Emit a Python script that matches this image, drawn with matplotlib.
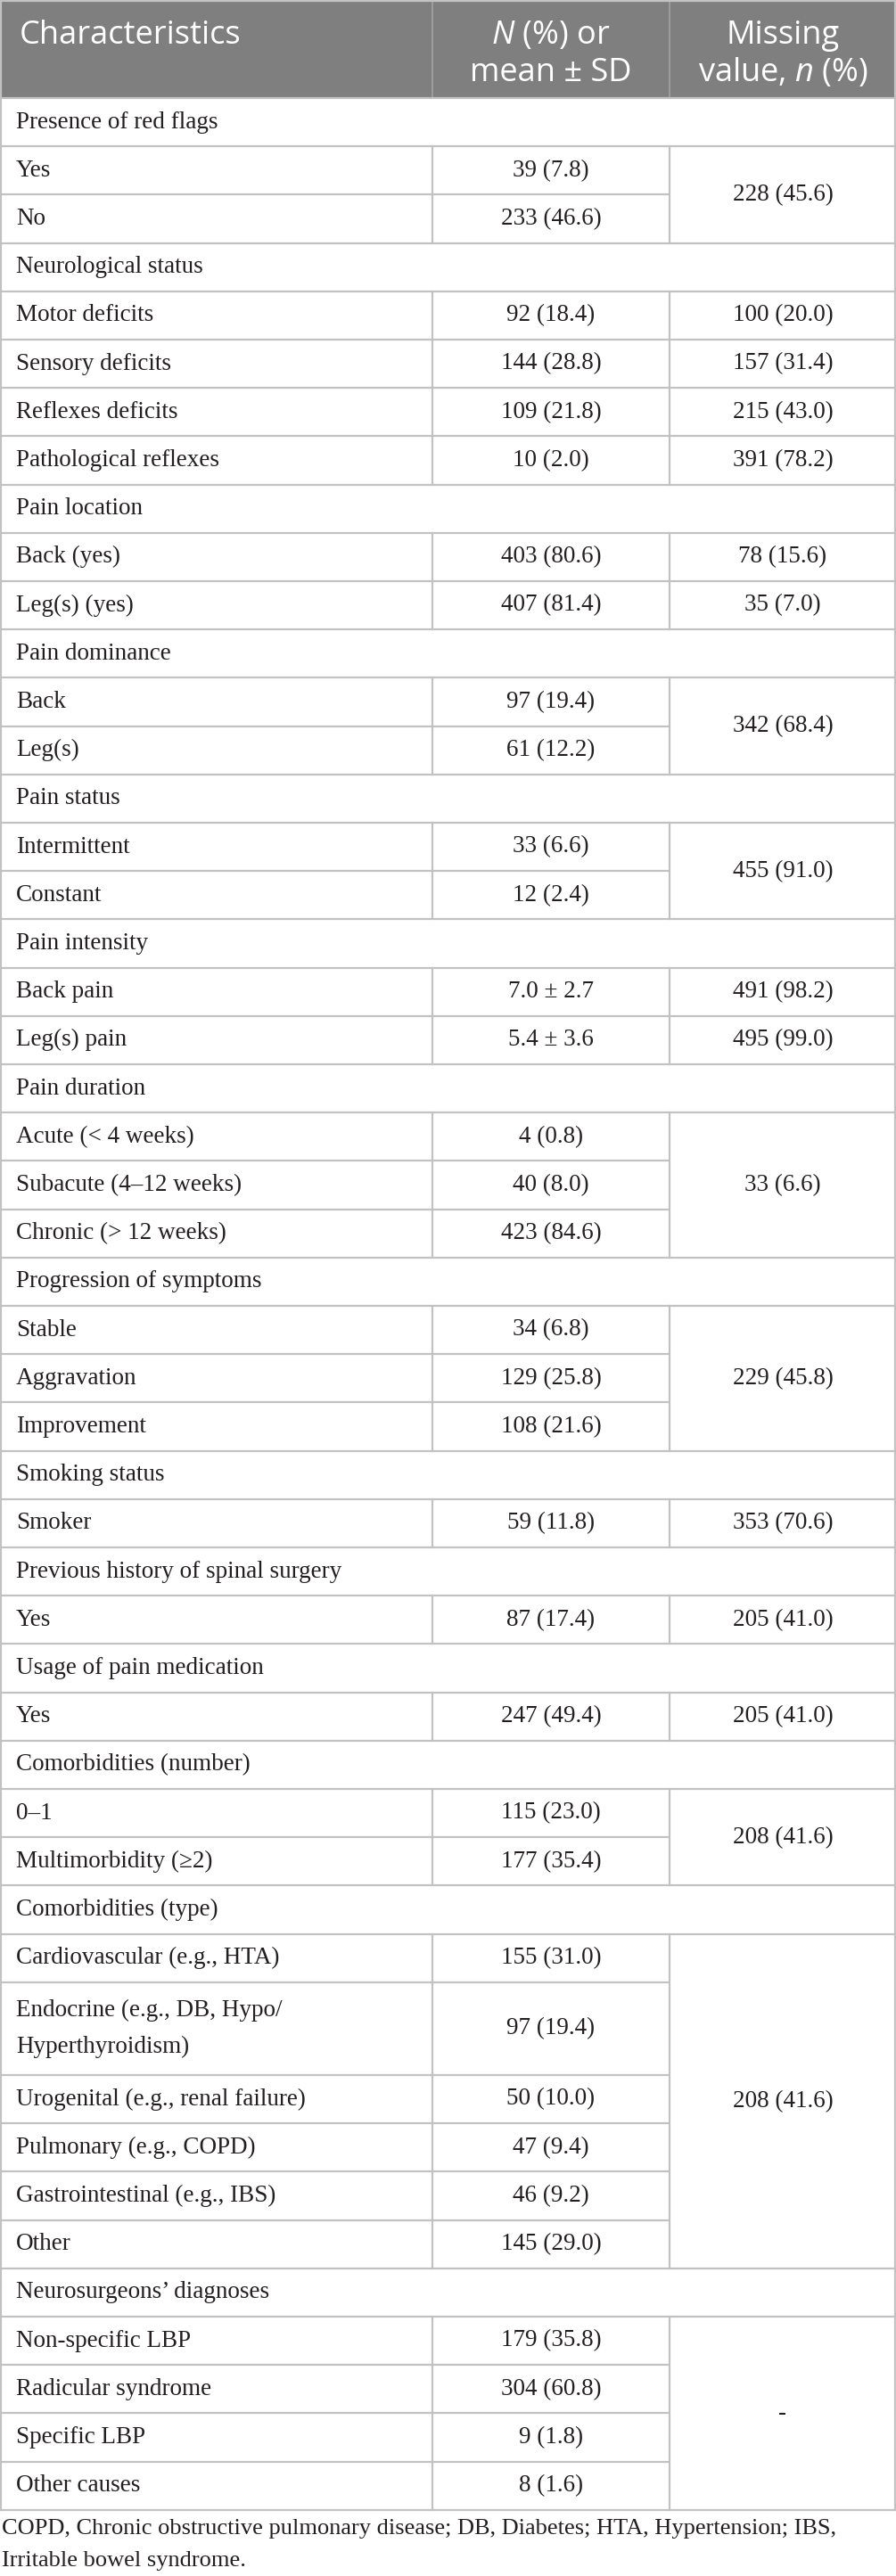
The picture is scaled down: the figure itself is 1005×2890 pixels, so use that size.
import matplotlib.pyplot as plt
from matplotlib.patches import Rectangle


plt.rcParams["mathtext.fontset"] = "custom"
plt.rcParams["mathtext.rm"] = "Open Sans"
plt.rcParams["mathtext.it"] = "Open Sans:italic"

HEADERS = [
    "Characteristics",
    ["$\\mathit{N}$ (%) or", "mean ± SD"],
    ["Missing", "value, $\\mathit{n}$ (%)"],
]

SECTION_TITLES = [
    "Presence of red flags",
    "Neurological status",
    "Pain location",
    "Pain dominance",
    "Pain status",
    "Pain intensity",
    "Pain duration",
    "Progression of symptoms",
    "Smoking status",
    "Previous history of spinal surgery",
    "Usage of pain medication",
    "Comorbidities (number)",
    "Comorbidities (type)",
    "Neurosurgeons’ diagnoses",
]

ROW_LABELS = [
    ["Yes", "No"],
    ["Motor deficits", "Sensory deficits", "Reflexes deficits",
     "Pathological reflexes"],
    ["Back (yes)", "Leg(s) (yes)"],
    ["Back", "Leg(s)"],
    ["Intermittent", "Constant"],
    ["Back pain", "Leg(s) pain"],
    ["Acute (< 4 weeks)", "Subacute (4–12 weeks)", "Chronic (> 12 weeks)"],
    ["Stable", "Aggravation", "Improvement"],
    ["Smoker"],
    ["Yes"],
    ["Yes"],
    ["0–1", "Multimorbidity (≥2)"],
    ["Cardiovascular (e.g., HTA)",
     "Endocrine (e.g., DB, Hypo/\nHyperthyroidism)",
     "Urogenital (e.g., renal failure)",
     "Pulmonary (e.g., COPD)",
     "Gastrointestinal (e.g., IBS)",
     "Other"],
    ["Non-specific LBP", "Radicular syndrome", "Specific LBP",
     "Other causes"],
]

N_VALUES = [
    ["39 (7.8)", "233 (46.6)"],
    ["92 (18.4)", "144 (28.8)", "109 (21.8)", "10 (2.0)"],
    ["403 (80.6)", "407 (81.4)"],
    ["97 (19.4)", "61 (12.2)"],
    ["33 (6.6)", "12 (2.4)"],
    ["7.0 ± 2.7", "5.4 ± 3.6"],
    ["4 (0.8)", "40 (8.0)", "423 (84.6)"],
    ["34 (6.8)", "129 (25.8)", "108 (21.6)"],
    ["59 (11.8)"],
    ["87 (17.4)"],
    ["247 (49.4)"],
    ["115 (23.0)", "177 (35.4)"],
    ["155 (31.0)", "97 (19.4)", "50 (10.0)", "47 (9.4)", "46 (9.2)",
     "145 (29.0)"],
    ["179 (35.8)", "304 (60.8)", "9 (1.8)", "8 (1.6)"],
]

# None means the cell is merged with the one above
MISSING_VALUES = [
    ["228 (45.6)", None],
    ["100 (20.0)", "157 (31.4)", "215 (43.0)", "391 (78.2)"],
    ["78 (15.6)", "35 (7.0)"],
    ["342 (68.4)", None],
    ["455 (91.0)", None],
    ["491 (98.2)", "495 (99.0)"],
    ["33 (6.6)", None, None],
    ["229 (45.8)", None, None],
    ["353 (70.6)"],
    ["205 (41.0)"],
    ["205 (41.0)"],
    ["208 (41.6)", None],
    ["208 (41.6)", None, None, None, None, None],
    ["-", None, None, None],
]

FOOTNOTE = [
    "COPD, Chronic obstructive pulmonary disease; DB, Diabetes; "
    "HTA, Hypertension; IBS,",
    "Irritable bowel syndrome.",
]

WIDTH = 1005
HEIGHT = 2890
COL_X = [0, 485, 751, 1005]
HEADER_H = 110
ROW_H = 54.2
LINE_STEP = 50

HEADER_BG = "#7f7f7f"
HEADER_SEP = "#a3a3a3"
GRID = "#c2c2c2"
TEXT = "#231f20"
BODY_FONT = "Liberation Serif"
HEAD_FONT = "Open Sans"
BODY_SIZE = 19.5


def draw_header(ax):
    """
    Gray header band with white titles.
    """

    ax.add_patch(
        Rectangle(
            (0, 0),
            WIDTH,
            HEADER_H,
            facecolor=HEADER_BG,
            edgecolor="none",
            zorder=1,
        )
    )

    for x in COL_X[1:3]:
        ax.plot(
            [x, x],
            [0, HEADER_H],
            color=HEADER_SEP,
            lw=1.2,
            zorder=2,
        )

    ax.text(
        22, 49,
        HEADERS[0],
        family=HEAD_FONT,
        fontsize=26,
        color="white",
        va="baseline",
        ha="left",
    )

    for col, lines in zip([1, 2], HEADERS[1:]):
        xc = (COL_X[col] + COL_X[col + 1]) / 2
        for y, line in zip([49, 91], lines):
            ax.text(
                xc, y,
                line,
                family=HEAD_FONT,
                fontsize=26,
                color="white",
                va="baseline",
                ha="center",
            )


def grid_line(ax, x0, x1, y):
    ax.plot(
        [x0, x1],
        [y, y],
        color=GRID,
        lw=1.6,
        solid_capstyle="butt",
        zorder=2,
    )


def draw_body(ax):
    """
    Section rows, data rows and merged missing-value cells.
    """

    y = HEADER_H
    grid_line(ax, 0, WIDTH, y)

    for title, labels, n_vals, miss in zip(
        SECTION_TITLES,
        ROW_LABELS,
        N_VALUES,
        MISSING_VALUES,
    ):
        ax.text(
            18, y + ROW_H / 2,
            title,
            family=BODY_FONT,
            fontsize=BODY_SIZE,
            color=TEXT,
            va="center",
        )
        y += ROW_H
        grid_line(ax, 0, WIDTH, y)

        tops = []
        bottoms = []
        for label, value in zip(labels, n_vals):
            n_lines = label.count("\n") + 1
            h = ROW_H + (n_lines - 1) * LINE_STEP
            tops.append(y)
            bottoms.append(y + h)

            ax.text(
                18, y + h / 2,
                label,
                family=BODY_FONT,
                fontsize=BODY_SIZE,
                color=TEXT,
                va="center",
                linespacing=1.8,
            )
            ax.text(
                (COL_X[1] + COL_X[2]) / 2, y + h / 2,
                value,
                family=BODY_FONT,
                fontsize=BODY_SIZE,
                color=TEXT,
                va="center",
                ha="center",
            )
            ax.plot(
                [COL_X[1], COL_X[1]],
                [y, y + h],
                color=GRID,
                lw=1.6,
                zorder=2,
            )
            y += h

        # merged cells in the last column
        i = 0
        while i < len(miss):
            j = i + 1
            while j < len(miss) and miss[j] is None:
                j += 1
            ax.text(
                (COL_X[2] + COL_X[3]) / 2,
                (tops[i] + bottoms[j - 1]) / 2,
                miss[i],
                family=BODY_FONT,
                fontsize=BODY_SIZE,
                color=TEXT,
                va="center",
                ha="center",
            )
            ax.plot(
                [COL_X[2], COL_X[2]],
                [tops[i], bottoms[j - 1]],
                color=GRID,
                lw=1.6,
                zorder=2,
            )
            for k in range(i, j - 1):
                grid_line(ax, 0, COL_X[2], bottoms[k])
            grid_line(ax, 0, WIDTH, bottoms[j - 1])
            i = j

    return y


def main():
    fig = plt.figure(
        figsize=(WIDTH / 100, HEIGHT / 100),
        dpi=100,
    )
    ax = fig.add_axes([0, 0, 1, 1])
    ax.set_xlim(0, WIDTH)
    ax.set_ylim(HEIGHT, 0)
    ax.axis("off")

    draw_header(ax)
    bottom = draw_body(ax)

    for x in [1, WIDTH - 1]:
        ax.plot(
            [x, x],
            [0, bottom],
            color=GRID,
            lw=1.6,
            zorder=2,
        )
    grid_line(ax, 0, WIDTH, 1)

    for y, line in zip([bottom + 21, bottom + 57], FOOTNOTE):
        ax.text(
            2, y,
            line,
            family=BODY_FONT,
            fontsize=BODY_SIZE - 0.5,
            color=TEXT,
            va="center",
        )

    fig.savefig("out.png", dpi=100)
    plt.close(fig)


main()
